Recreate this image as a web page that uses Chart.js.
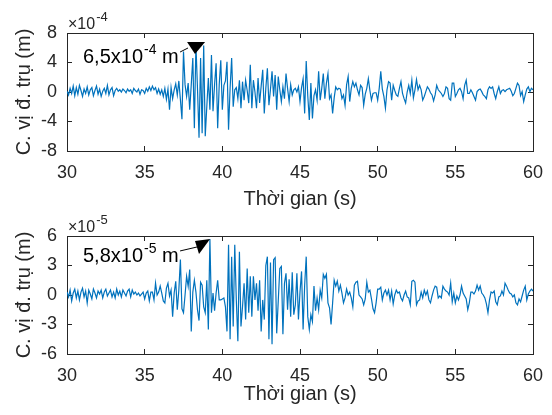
<!DOCTYPE html>
<html lang="vi">
<head>
    <meta charset="UTF-8">
    <title>Chuyển vị đỉnh trụ</title>
    <script src="https://cdn.jsdelivr.net/npm/chart.js"></script>
    <style>
        body {
            margin: 0;
            background: #fff;
            font-family: "Liberation Sans", Arial, sans-serif;
        }

        canvas {
            position: absolute;
            left: 0;
        }

        #chartTop { top: 0; }
        #chartBottom { top: 200px; }
    </style>
</head>
<body>
    <canvas id="chartTop" width="552" height="215"></canvas>
    <canvas id="chartBottom" width="552" height="215"></canvas>

    <script>
        // time axis: samples every 0.1 s from 30 s
        const timeStart = 30;
        const timeStep = 0.1;
        const xTicks = [30, 35, 40, 45, 50, 55, 60];

        // top panel, values in units of 1e-4 m (one row = one second)
        const dispTop = [
            0.1, -0.4, 0.5, -0.2, 0.8, -0.5, 0.6, -0.3, 0.9, 0.2,
            -0.6, 0.4, -0.2, 0.7, -0.4, 0.3, 0.6, -0.5, 0.2, 0.8,
            -0.3, 0.4, -0.6, 0.1, 0.5, -0.2, 0.9, -0.4, 0.3, 0.6,
            -0.5, 0.2, 0.5, 0.1, 0.3, 0.0, 0.4, 0.2, -0.1, 0.4,
            0.1, 0.3, -0.2, 0.5, 0.2, 0.0, 0.4, -0.3, 0.3, 0.2,
            -0.2, 0.5, 0.1, 0.7, 0.2, 0.8, 0.3, 0.6, -0.2, 0.4,
            -0.3, 0.3, -0.6, 0.5, -1.0, 0.4, -2.4, 0.6, -0.9, 0.3,
            1.1, -0.4, 1.5, -1.0, -3.7, 5.5, 1.0, -0.6, 1.2, -2.4,
            1.0, 4.6, -4.9, 6.5, 0.5, -6.2, 4.6, -5.6, 6.3, -6.0,
            -2.0, 1.9, -2.4, 5.0, -2.6, 1.0, 3.9, -4.9, 1.0, 4.3,
            -2.4, 0.9, 1.5, 4.1, -5.1, 0.5, 4.6, -2.0, 0.3, 0.6,
            -0.9, 1.6, -2.2, 1.4, -1.1, 1.6, 0.2, -1.5, 3.7, -2.2,
            1.6, 0.0, -2.2, 1.9, -1.5, 0.8, 3.0, -2.9, 0.5, 3.2,
            -1.8, 0.4, 2.8, -0.6, 2.3, -2.4, 2.1, 0.3, -1.3, 0.7,
            -0.9, 2.5, 0.5, -1.3, 1.0, -0.4, 0.3, 0.5, 0.0, 0.7,
            -1.3, 0.6, 1.8, -2.9, 4.2, -0.5, -3.8, 1.2, -3.6, -0.5,
            0.3, -1.1, 2.8, -1.1, 0.5, 2.5, -0.9, 1.2, 2.5, -0.9,
            -0.4, -2.9, -0.8, 0.7, 0.3, 0.5, 0.4, -0.9, -0.4, -1.8,
            1.0, 2.1, -1.3, 0.5, 1.4, 0.7, 1.2, 0.3, -0.4, 0.9,
            0.6, -1.8, -0.3, 0.5, 1.8, 0.2, -1.1, -0.2, -0.1, -0.1,
            -1.1, 0.5, 2.8, 0.4, -0.6, -2.2, 0.3, 1.4, 1.2, -1.1,
            0.9, 0.2, -0.4, -0.6, 0.5, 1.4, -0.2, -0.9, -1.5, 0.0,
            0.9, -0.2, 1.6, -0.8, 0.3, 1.7, 0.3, 0.9, 0.3, -1.1,
            -0.6, 0.05, 0.7, 0.4, -0.1, -0.4, -1.2, -0.4, 0.9, 0.3,
            0.05, -0.2, -0.6, -0.2, 0.7, 0.5, -0.9, -1.1, 1.2, 1.2,
            -0.6, -0.2, 0.3, 0.5, 0.05, -0.9, 0.9, 1.6, -0.2, -0.2,
            0.3, -0.1, -0.6, -1.1, 0.05, 0.3, 0.4, 0.05, -0.4, -0.6,
            -0.9, 0.3, 0.7, 0.5, 0.7, -0.2, -0.9, 0.05, 0.7, -0.2,
            0.2, 0.3, 0.05, 0.3, 0.4, 0.5, 0.1, -0.5, -0.2, 0.5,
            1.2, 0.9, -0.5, 0.05, -1.3, -0.4, 0.4, 0.7, 0.05, 0.5,
            0.3
        ];

        // bottom panel, values in units of 1e-5 m
        const dispBottom = [
            0.3, -0.2, 0.5, -0.6, 0.2, 0.6, -0.3, 0.4, -0.5, 0.3,
            0.7, -0.2, 0.4, -0.8, 0.5, 0.1, -0.4, 0.6, 0.2, -0.3,
            0.4, 0.1, 0.5, -0.3, 0.3, 0.6, -0.1, 0.2, 0.5, -0.2,
            0.3, -0.3, 0.6, 0.0, 0.4, -0.2, 0.5, 0.2, -0.1, 0.4,
            0.6, -0.2, 0.5, 0.1, 0.3, 0.0, 0.2, -0.1, 0.1, 0.3,
            -0.4, 0.2, 0.4, -0.6, 0.3, 0.3, -0.5, 1.2, 0.0, 0.3,
            0.9, 0.2, -0.6, -0.8, 0.7, 1.2, -0.1, 0.5, -2.2, 0.2,
            1.4, -1.5, 0.5, 3.6, -1.4, -1.8, 0.0, 1.9, 0.9, 2.6,
            -3.7, 0.3, 1.5, 0.3, -1.5, -2.6, 1.3, 1.0, -1.2, -1.8,
            1.5, -3.5, 5.7, -1.8, 0.2, -1.6, 0.2, 1.5, -0.5, -0.5,
            -0.4, -0.3, -1.2, -3.7, 5.1, -4.5, 3.9, -3.2, 5.1, -0.5,
            -4.7, 4.4, -3.2, -1.2, 1.2, -2.5, 2.7, -1.8, 1.9, -2.2,
            1.9, -0.5, 1.2, -1.6, 1.5, -3.7, -0.5, -2.5, 3.0, 3.9,
            -4.5, 3.3, -5.0, 3.6, 3.8, -3.9, -0.6, 2.7, 2.9, -4.0,
            1.2, 2.2, -1.5, 1.6, -2.2, 2.3, -2.0, -1.0, 2.2, -2.5,
            0.3, 2.4, -3.5, 1.0, 3.9, -2.2, -3.5, -2.0, -2.7, 0.9,
            -1.6, -0.3, -1.5, 0.5, -0.3, 2.1, 1.7, 2.1, -0.8, -1.3,
            -3.0, -0.8, 1.5, 0.9, 1.4, 0.4, 1.0, 0.2, -0.8, -0.3,
            0.6, 0.0, 0.3, -0.3, -1.2, 1.0, 1.3, 1.4, 0.0, -0.2,
            -0.4, -1.0, -0.4, 1.3, 0.3, 0.5, -0.4, -1.4, -1.8, -0.8,
            0.6, 0.6, 0.8, -0.5, 0.2, 0.5, 0.0, 0.5, -0.5, 0.4,
            -0.9, 0.0, 0.5, 0.2, 0.3, -0.3, -0.6, 0.0, 0.4, -0.2,
            -0.3, -1.0, 1.4, 1.5, 1.3, -1.0, -0.6, -0.5, 0.3, -0.3,
            0.5, 0.0, 0.4, -0.5, -0.8, -0.1, 0.5, 0.9, 0.8, -0.3,
            -0.1, -0.3, 0.9, 0.6, 0.4, 0.3, 0.0, 1.2, -0.7, 0.2,
            -0.8, -0.1, -0.5, 0.0, 0.9, 0.2, -0.1, -0.4, -1.5, -0.8,
            0.3, 0.3, 0.1, 0.4, 1.0, 0.5, 0.9, 0.2, 0.0, -0.3,
            -0.9, -1.8, -0.5, 0.3, 0.2, 0.4, -0.7, -1.0, -0.2, -0.1,
            0.4, 0.0, 1.2, 0.9, 0.5, 0.2, 0.1, -0.2, 0.0, -0.8,
            -1.0, -0.4, -0.7, -0.1, 0.5, 0.9, -0.5, 0.1, 0.4, 0.6,
            0.4
        ];

        const yTicksTop = [-8, -4, 0, 4, 8];
        const yTicksBottom = [-6, -3, 0, 3, 6];

        const axisColor = '#262626';
        const lineColor = '#0072BD';
        const fontFamily = '"Liberation Sans", Arial, sans-serif';

        // per-canvas extras for the plugin (exponent and peak note)
        const extras = {};

        function toPoints(values) {
            return values.map((v, i) => ({ x: timeStart + i * timeStep, y: v }));
        }

        // inward MATLAB ticks: negative tick length, no grid on the plot
        const boxGrid = {
            display: true,
            drawOnChartArea: false,
            drawTicks: true,
            tickLength: -5,
            color: axisColor,
            lineWidth: 1
        };
        const boxBorder = { display: true, color: axisColor, width: 1 };

        const noteLayer = {
            id: 'noteLayer',
            afterDraw(chart) {
                const cfg = extras[chart.canvas.id];
                if (!cfg) return;
                const ctx = chart.ctx;
                const a = chart.chartArea;
                const xs = chart.scales.x;
                const ys = chart.scales.y;

                ctx.save();
                // exponent above the y axis
                ctx.fillStyle = axisColor;
                ctx.textBaseline = 'alphabetic';
                ctx.textAlign = 'left';
                ctx.font = '16px ' + fontFamily;
                const ex = a.left + 1;
                const ey = a.top - 4;
                ctx.fillText('\u00d710', ex, ey);
                const w10 = ctx.measureText('\u00d710').width;
                ctx.font = '13px ' + fontFamily;
                ctx.fillText(cfg.expo, ex + w10 + 1, ey - 8);

                // peak annotation
                const n = cfg.note;
                const P = (p) => [xs.getPixelForValue(p[0]), ys.getPixelForValue(p[1])];
                ctx.fillStyle = '#000';
                ctx.font = '20px ' + fontFamily;
                const tp = P(n.textAt);
                ctx.fillText(n.text, tp[0], tp[1]);
                let w = ctx.measureText(n.text).width;
                ctx.font = '14px ' + fontFamily;
                ctx.fillText(n.sup, tp[0] + w + 1, tp[1] - 9);
                w += ctx.measureText(n.sup).width + 1;
                ctx.font = '20px ' + fontFamily;
                ctx.fillText(n.unit, tp[0] + w, tp[1]);

                ctx.strokeStyle = '#000';
                ctx.lineWidth = 1;
                ctx.beginPath();
                const l0 = P(n.lineFrom), l1 = P(n.lineTo);
                ctx.moveTo(l0[0], l0[1]);
                ctx.lineTo(l1[0], l1[1]);
                ctx.stroke();
                ctx.beginPath();
                n.head.forEach((p, i) => {
                    const q = P(p);
                    if (i === 0) ctx.moveTo(q[0], q[1]); else ctx.lineTo(q[0], q[1]);
                });
                ctx.closePath();
                ctx.fill();
                ctx.restore();
            }
        };

        function makeChart(canvasId, values, yMin, yMax, yTicks, areaTop, xAxisHeight, titlePad, expo, note) {
            extras[canvasId] = { expo: expo, note: note };
            const setX = s => { s.ticks = xTicks.map(v => ({ value: v })); };
            const setY = s => { s.ticks = yTicks.map(v => ({ value: v })); };
            // fixed box sizes; drop the label overhang so the plot keeps its width
            const fitX = h => s => { s.height = h; s.paddingLeft = 0; s.paddingRight = 0; };
            return new Chart(document.getElementById(canvasId), {
                type: 'line',
                data: {
                    datasets: [{
                        data: toPoints(values),
                        xAxisID: 'x',
                        yAxisID: 'y',
                        borderColor: lineColor,
                        borderWidth: 1.2,
                        pointRadius: 0,
                        tension: 0,
                        fill: false
                    }]
                },
                plugins: [noteLayer],
                options: {
                    responsive: false,
                    animation: false,
                    layout: { padding: { top: areaTop, right: 19, left: 0, bottom: 0 } },
                    plugins: {
                        legend: { display: false },
                        tooltip: { enabled: false }
                    },
                    scales: {
                        x: {
                            type: 'linear',
                            position: 'bottom',
                            min: 30,
                            max: 60,
                            afterFit: fitX(xAxisHeight),
                            afterBuildTicks: setX,
                            grid: boxGrid,
                            border: boxBorder,
                            ticks: {
                                color: axisColor,
                                padding: 16,
                                maxRotation: 0,
                                font: { family: fontFamily, size: 18 }
                            },
                            title: {
                                display: true,
                                text: 'Thời gian (s)',
                                color: axisColor,
                                padding: { top: 0, bottom: titlePad },
                                font: { family: fontFamily, size: 20 }
                            }
                        },
                        xTop: {
                            type: 'linear',
                            position: 'top',
                            min: 30,
                            max: 60,
                            afterFit: fitX(0),
                            afterBuildTicks: setX,
                            grid: boxGrid,
                            border: boxBorder,
                            ticks: { display: false }
                        },
                        y: {
                            type: 'linear',
                            position: 'left',
                            min: yMin,
                            max: yMax,
                            afterFit: s => { s.width = 67; },
                            afterBuildTicks: setY,
                            grid: boxGrid,
                            border: boxBorder,
                            ticks: {
                                color: axisColor,
                                padding: 15,
                                font: { family: fontFamily, size: 18 }
                            },
                            title: {
                                display: true,
                                text: 'C. vị đ. trụ (m)',
                                color: axisColor,
                                padding: { top: 12, bottom: 0 },
                                font: { family: fontFamily, size: 20 }
                            }
                        },
                        yRight: {
                            type: 'linear',
                            position: 'right',
                            min: yMin,
                            max: yMax,
                            afterFit: s => { s.width = 0; },
                            afterBuildTicks: setY,
                            grid: boxGrid,
                            border: boxBorder,
                            ticks: { display: false }
                        }
                    }
                }
            });
        }

        makeChart('chartTop', dispTop, -8, 8, yTicksTop, 33, 64, 4, '-4', {
            text: '6,5x10', sup: '-4', unit: ' m',
            textAt: [31.03, 3.9],
            lineFrom: [37.28, 5.42], lineTo: [37.79, 5.97],
            head: [[37.73, 6.78], [38.89, 6.78], [38.24, 5.15]]
        });

        makeChart('chartBottom', dispBottom, -6, 6, yTicksBottom, 36, 61, 9, '-5', {
            text: '5,8x10', sup: '-5', unit: ' m',
            textAt: [31.03, 3.36],
            lineFrom: [37.28, 4.48], lineTo: [38.37, 4.88],
            head: [[38.24, 5.49], [39.21, 5.7], [38.5, 4.17]]
        });
    </script>
</body>
</html>
